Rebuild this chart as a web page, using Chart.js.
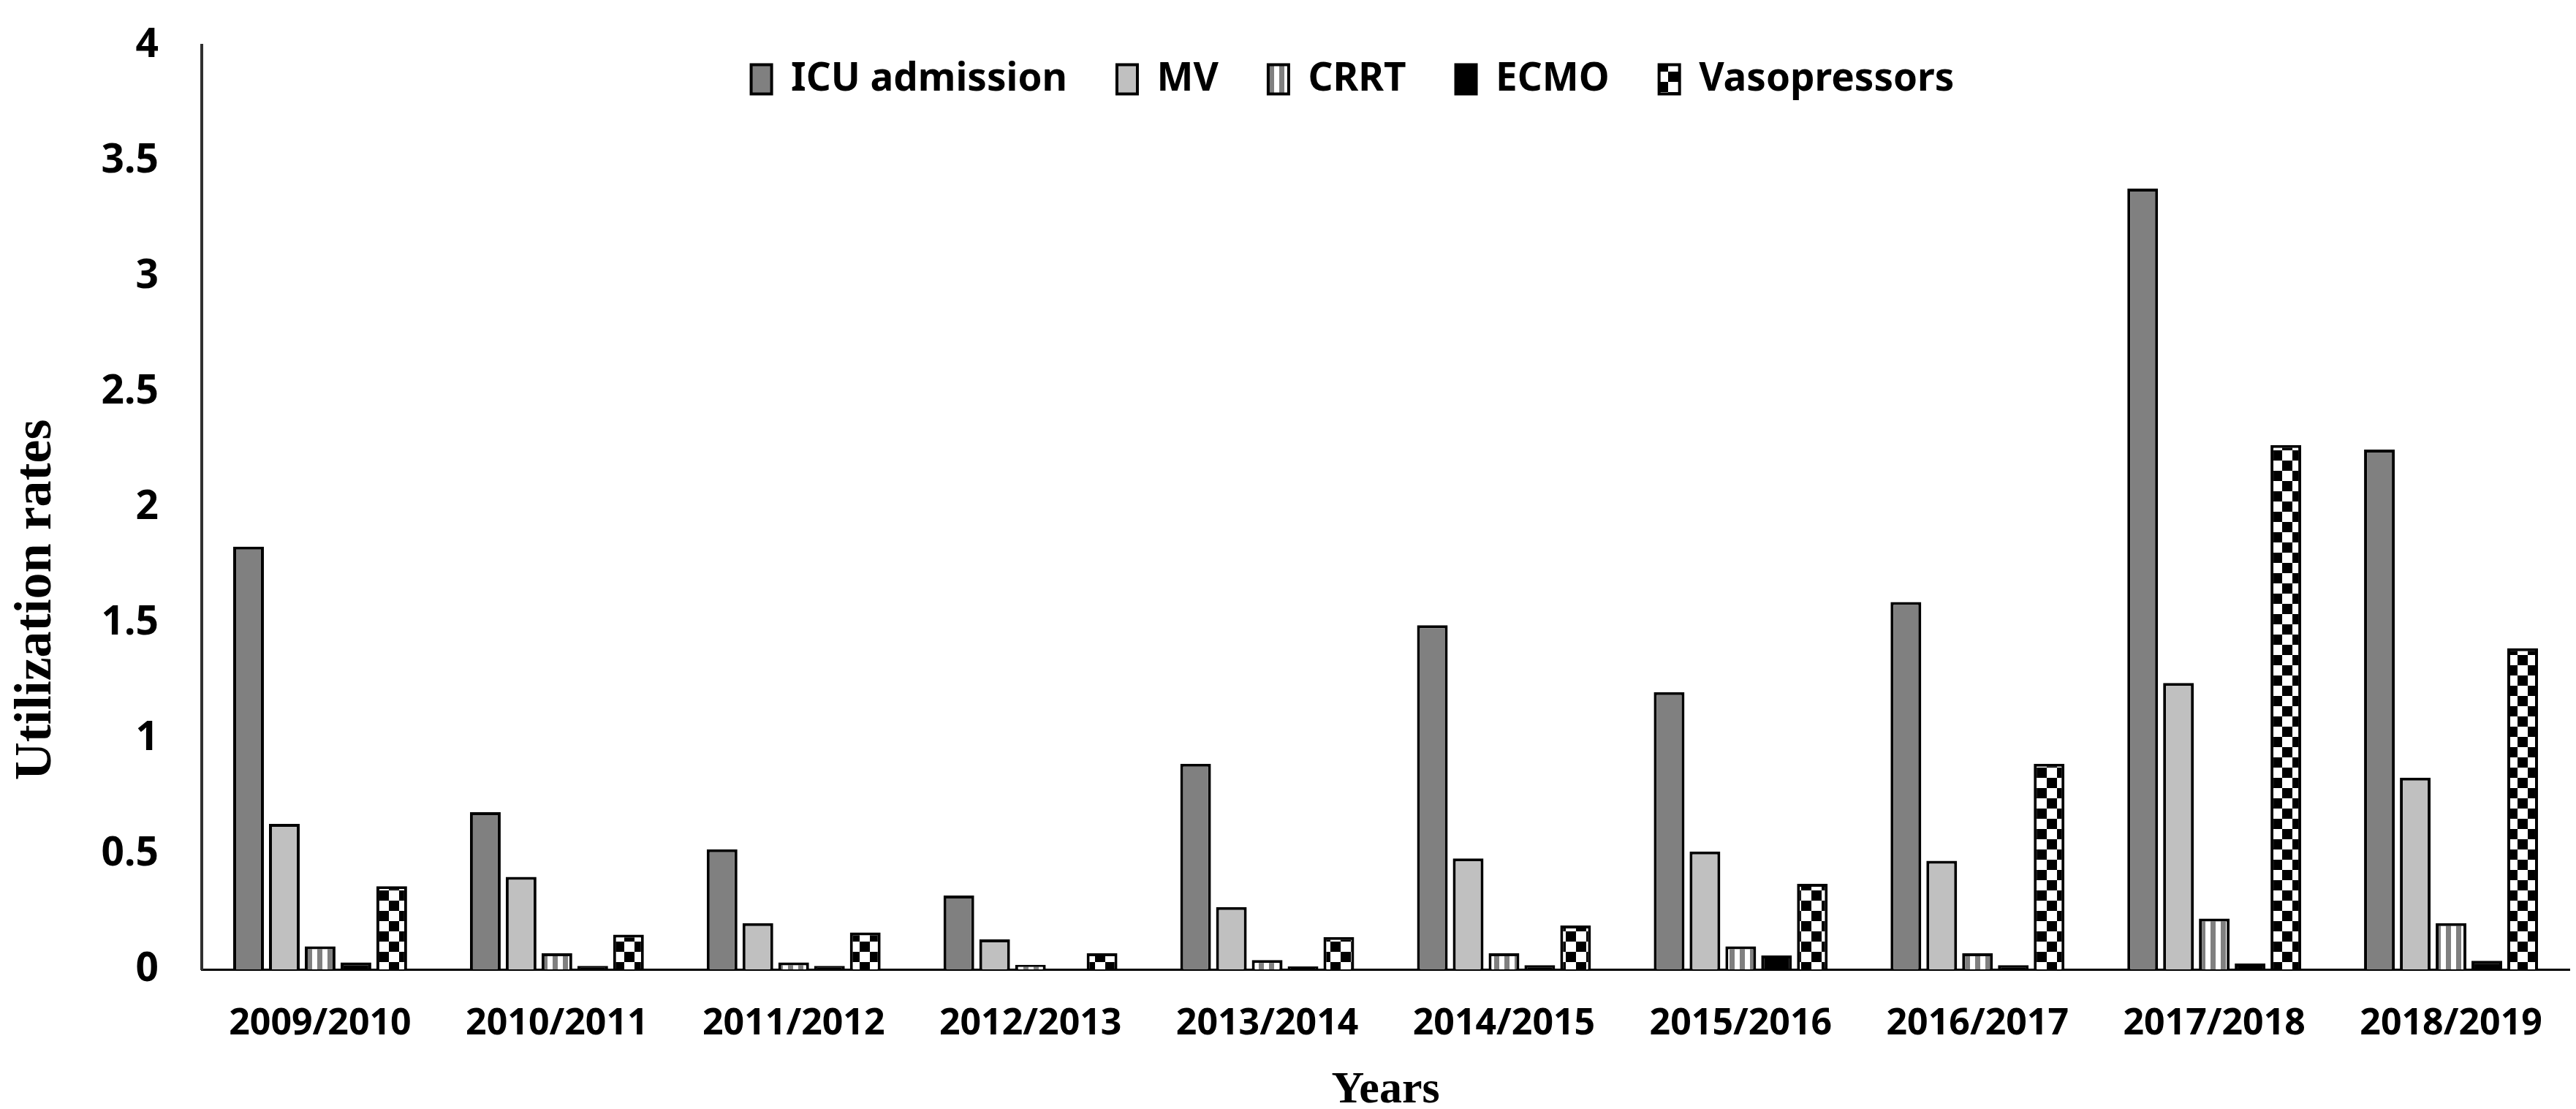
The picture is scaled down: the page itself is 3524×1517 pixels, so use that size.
<!DOCTYPE html>
<html>
<head>
<meta charset="utf-8">
<script src="https://cdn.jsdelivr.net/npm/chart.js@4.4.1/dist/chart.umd.min.js"></script>
<style>
  html, body { margin: 0; padding: 0; background: #fff; overflow: hidden; }
  #wrap { width: 3524px; height: 1517px; position: relative; }
</style>
</head>
<body>
<div id="wrap"><canvas id="chart"></canvas></div>
<script>
// values
const seasons = ['2009/2010', '2010/2011', '2011/2012', '2012/2013', '2013/2014',
                 '2014/2015', '2015/2016', '2016/2017', '2017/2018', '2018/2019'];
const icuAdmission = [1.83, 0.68, 0.52, 0.32, 0.89, 1.49, 1.20, 1.59, 3.38, 2.25];
const mechVent     = [0.63, 0.40, 0.20, 0.13, 0.27, 0.48, 0.51, 0.47, 1.24, 0.83];
const crrt         = [0.10, 0.07, 0.03, 0.02, 0.04, 0.07, 0.10, 0.07, 0.22, 0.20];
const ecmo         = [0.03, 0.015, 0.015, 0, 0.013, 0.018, 0.06, 0.018, 0.025, 0.037];
const vasopressors = [0.36, 0.15, 0.16, 0.07, 0.14, 0.19, 0.37, 0.89, 2.27, 1.39];
const yMax = 4;
const yStep = 0.5;

function stripePattern() {
    const c = document.createElement('canvas');
    c.width = 14; c.height = 14;
    const g = c.getContext('2d');
    g.fillStyle = '#ffffff';
    g.fillRect(0, 0, 14, 14);
    g.fillStyle = '#808080';
    g.fillRect(0, 0, 7, 14);
    return g.createPattern(c, 'repeat');
}

function checkerPattern() {
    const c = document.createElement('canvas');
    c.width = 28; c.height = 28;
    const g = c.getContext('2d');
    g.fillStyle = '#ffffff';
    g.fillRect(0, 0, 28, 28);
    g.fillStyle = '#000000';
    g.fillRect(0, 0, 14, 14);
    g.fillRect(14, 14, 14, 14);
    return g.createPattern(c, 'repeat');
}

// y title sits lower than the middle of the axis in the original
const yTitle = {
    id: 'yTitle',
    afterDraw(chart) {
        const { ctx, chartArea } = chart;
        ctx.save();
        ctx.translate(50, chartArea.top + (chartArea.bottom - chartArea.top) * 0.6);
        ctx.rotate(-Math.PI / 2);
        ctx.font = 'bold 72px "Liberation Serif"';
        ctx.fillStyle = '#000';
        ctx.textAlign = 'center';
        ctx.textBaseline = 'middle';
        ctx.fillText('Utilization rates', 0, 0);
        ctx.restore();
    }
};

// legend takes no room in the layout and overlaps the top of the plot area
const legendNudge = {
    id: 'legendNudge',
    afterLayout(chart) {
        const lg = chart.legend;
        lg.top -= 47;
        lg.bottom = lg.top + 200;
        lg.left += 93;
        lg.right += 93;
    }
};

function bars(label, data, fill) {
    return {
        label: label,
        data: data,
        backgroundColor: fill,
        borderColor: '#000',
        borderWidth: 4,
        categoryPercentage: 0.756,
        barPercentage: 0.857
    };
}

Chart.defaults.color = '#000';

new Chart(document.getElementById('chart'), {
    type: 'bar',
    data: {
        labels: seasons,
        datasets: [
            bars('ICU admission', icuAdmission, '#808080'),
            bars('MV', mechVent, '#c0c0c0'),
            bars('CRRT', crrt, stripePattern()),
            bars('ECMO', ecmo, '#000000'),
            bars('Vasopressors', vasopressors, checkerPattern())
        ]
    },
    options: {
        responsive: true,
        maintainAspectRatio: false,
        animation: false,
        layout: { padding: { top: 61, right: 9, left: 0, bottom: 0 } },
        plugins: {
            tooltip: { enabled: false },
            legend: {
                position: 'top',
                maxHeight: 1,
                labels: {
                    font: { family: 'Noto Sans', weight: 'bold', size: 53 },
                    boxWidth: 28,
                    boxHeight: 40,
                    padding: 68
                }
            }
        },
        scales: {
            x: {
                grid: { display: false, drawTicks: false },
                border: { display: true, color: '#000', width: 3 },
                ticks: {
                    padding: 45,
                    font: { family: 'Noto Sans', weight: 'bold', size: 50 }
                },
                title: {
                    display: true,
                    text: 'Years',
                    padding: 0,
                    font: { family: 'Liberation Serif', weight: 'bold', size: 62, lineHeight: 0.8 }
                },
                afterFit(s) { s.height = 191; }
            },
            y: {
                min: 0,
                max: yMax,
                grid: { display: false, drawTicks: false },
                border: { display: true, color: '#303030', width: 4 },
                ticks: {
                    stepSize: yStep,
                    padding: 59,
                    font: { family: 'Noto Sans', weight: 'bold', size: 55 },
                    callback: v => `${v}`
                },
                afterFit(s) {
                    s.width = 276;
                    s.paddingTop = 0;
                    s.paddingBottom = 0;
                }
            }
        }
    },
    plugins: [yTitle, legendNudge]
});
</script>
</body>
</html>
